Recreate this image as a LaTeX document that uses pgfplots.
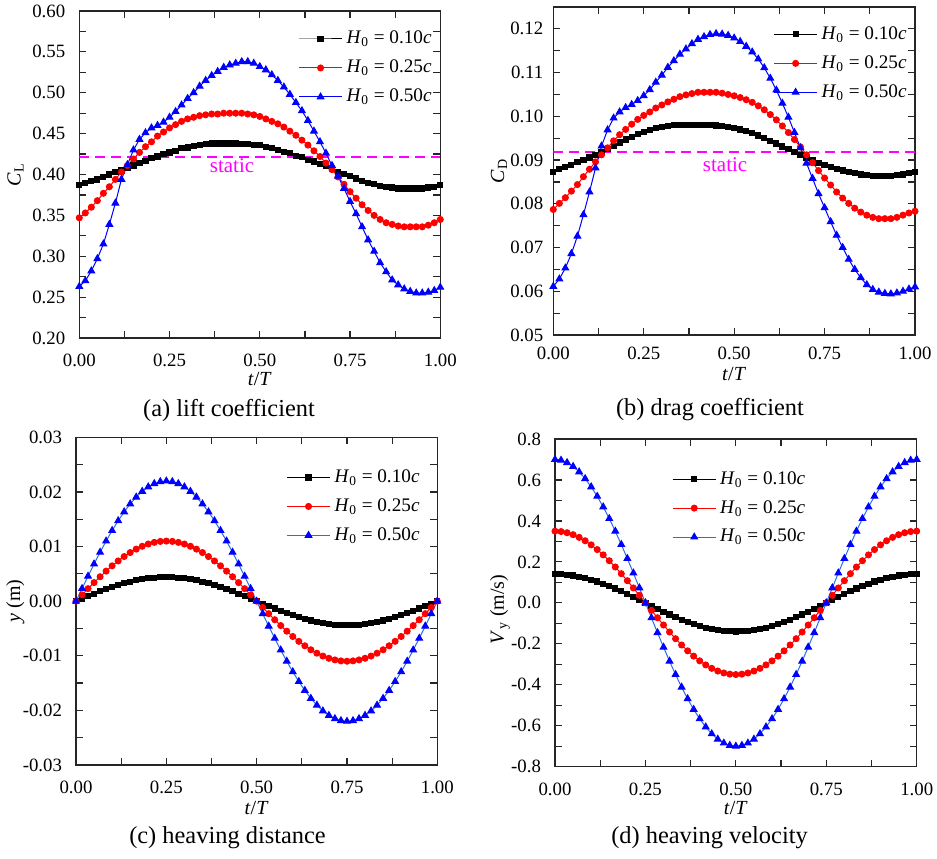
\documentclass[border=0pt]{standalone}
\usepackage{fontspec}
\setmainfont{Liberation Serif}
\usepackage{pgfplots}
\usepackage{pgfplotstable}
\pgfplotsset{compat=1.18}

\definecolor{lineblue}{RGB}{40,110,230}
\definecolor{staticpink}{RGB}{255,0,255}

% lift coefficient
\pgfplotstableread{
t b r u
0.0000 0.387 0.347 0.263
0.0167 0.390 0.353 0.270
0.0333 0.392 0.360 0.282
0.0500 0.394 0.368 0.297
0.0667 0.397 0.377 0.315
0.0833 0.400 0.385 0.339
0.1000 0.403 0.394 0.365
0.1167 0.405 0.403 0.394
0.1333 0.408 0.411 0.412
0.1500 0.411 0.419 0.430
0.1667 0.414 0.427 0.443
0.1833 0.417 0.434 0.451
0.2000 0.420 0.440 0.457
0.2167 0.422 0.447 0.460
0.2333 0.425 0.452 0.464
0.2500 0.427 0.457 0.470
0.2667 0.429 0.461 0.477
0.2833 0.432 0.465 0.485
0.3000 0.433 0.468 0.493
0.3167 0.435 0.470 0.500
0.3333 0.436 0.472 0.508
0.3500 0.437 0.473 0.515
0.3667 0.438 0.474 0.521
0.3833 0.438 0.474 0.526
0.4000 0.438 0.475 0.531
0.4167 0.438 0.475 0.534
0.4333 0.438 0.475 0.536
0.4500 0.437 0.475 0.538
0.4667 0.437 0.474 0.538
0.4833 0.436 0.473 0.536
0.5000 0.436 0.471 0.532
0.5167 0.434 0.468 0.528
0.5333 0.432 0.465 0.522
0.5500 0.430 0.462 0.515
0.5667 0.428 0.458 0.507
0.5833 0.426 0.453 0.498
0.6000 0.423 0.448 0.488
0.6167 0.421 0.442 0.478
0.6333 0.418 0.436 0.466
0.6500 0.416 0.429 0.453
0.6667 0.413 0.422 0.440
0.6833 0.410 0.414 0.426
0.7000 0.407 0.406 0.411
0.7167 0.403 0.397 0.398
0.7333 0.401 0.388 0.383
0.7500 0.398 0.379 0.367
0.7667 0.395 0.371 0.352
0.7833 0.392 0.363 0.336
0.8000 0.390 0.356 0.320
0.8167 0.388 0.350 0.306
0.8333 0.386 0.345 0.292
0.8500 0.385 0.341 0.281
0.8667 0.384 0.339 0.271
0.8833 0.383 0.337 0.265
0.9000 0.383 0.336 0.260
0.9167 0.383 0.336 0.257
0.9333 0.383 0.336 0.255
0.9500 0.383 0.336 0.255
0.9667 0.384 0.338 0.256
0.9833 0.385 0.341 0.258
1.0000 0.387 0.345 0.262
}\liftdata

% drag coefficient
\pgfplotstableread{
t b r u
0.0000 0.0873 0.0787 0.0611
0.0167 0.0879 0.0801 0.0628
0.0333 0.0884 0.0814 0.0653
0.0500 0.0889 0.0829 0.0686
0.0667 0.0895 0.0844 0.0726
0.0833 0.0900 0.0862 0.0775
0.1000 0.0906 0.0879 0.0827
0.1167 0.0912 0.0896 0.0882
0.1333 0.0919 0.0912 0.0932
0.1500 0.0926 0.0928 0.0969
0.1667 0.0933 0.0944 0.0996
0.1833 0.0940 0.0958 0.1010
0.2000 0.0947 0.0970 0.1020
0.2167 0.0953 0.0982 0.1027
0.2333 0.0959 0.0993 0.1036
0.2500 0.0964 0.1002 0.1047
0.2667 0.0969 0.1010 0.1061
0.2833 0.0973 0.1019 0.1078
0.3000 0.0976 0.1026 0.1094
0.3167 0.0978 0.1033 0.1112
0.3333 0.0980 0.1039 0.1127
0.3500 0.0980 0.1045 0.1142
0.3667 0.0981 0.1049 0.1154
0.3833 0.0981 0.1052 0.1166
0.4000 0.0981 0.1055 0.1176
0.4167 0.0980 0.1055 0.1182
0.4333 0.0980 0.1055 0.1187
0.4500 0.0979 0.1055 0.1189
0.4667 0.0977 0.1053 0.1188
0.4833 0.0975 0.1050 0.1185
0.5000 0.0973 0.1047 0.1179
0.5167 0.0970 0.1043 0.1171
0.5333 0.0966 0.1038 0.1160
0.5500 0.0961 0.1032 0.1147
0.5667 0.0956 0.1024 0.1131
0.5833 0.0951 0.1015 0.1111
0.6000 0.0944 0.1004 0.1087
0.6167 0.0938 0.0992 0.1060
0.6333 0.0931 0.0978 0.1030
0.6500 0.0925 0.0963 0.0998
0.6667 0.0918 0.0947 0.0963
0.6833 0.0912 0.0930 0.0928
0.7000 0.0905 0.0912 0.0893
0.7167 0.0899 0.0894 0.0858
0.7333 0.0894 0.0876 0.0823
0.7500 0.0889 0.0859 0.0791
0.7667 0.0884 0.0843 0.0759
0.7833 0.0880 0.0827 0.0728
0.8000 0.0876 0.0813 0.0700
0.8167 0.0873 0.0801 0.0673
0.8333 0.0870 0.0790 0.0650
0.8500 0.0867 0.0781 0.0631
0.8667 0.0865 0.0774 0.0615
0.8833 0.0864 0.0769 0.0604
0.9000 0.0863 0.0766 0.0598
0.9167 0.0863 0.0766 0.0595
0.9333 0.0864 0.0766 0.0594
0.9500 0.0865 0.0769 0.0596
0.9667 0.0867 0.0774 0.0600
0.9833 0.0870 0.0779 0.0605
1.0000 0.0872 0.0783 0.0610
}\dragdata

% heaving distance
\pgfplotstableread{
t b r u
0.0000 0 0 0
0.0167 0.00046 0.00115 0.00230
0.0333 0.00091 0.00229 0.00457
0.0500 0.00136 0.00340 0.00680
0.0667 0.00179 0.00447 0.00895
0.0833 0.00220 0.00550 0.01100
0.1000 0.00259 0.00647 0.01293
0.1167 0.00294 0.00736 0.01472
0.1333 0.00327 0.00817 0.01635
0.1500 0.00356 0.00890 0.01780
0.1667 0.00381 0.00953 0.01905
0.1833 0.00402 0.01005 0.02010
0.2000 0.00418 0.01046 0.02092
0.2167 0.00430 0.01076 0.02152
0.2333 0.00438 0.01094 0.02188
0.2500 0.00440 0.01100 0.02200
0.2667 0.00438 0.01094 0.02188
0.2833 0.00430 0.01076 0.02152
0.3000 0.00418 0.01046 0.02092
0.3167 0.00402 0.01005 0.02010
0.3333 0.00381 0.00953 0.01905
0.3500 0.00356 0.00890 0.01780
0.3667 0.00327 0.00817 0.01635
0.3833 0.00294 0.00736 0.01472
0.4000 0.00259 0.00647 0.01293
0.4167 0.00220 0.00550 0.01100
0.4333 0.00179 0.00447 0.00895
0.4500 0.00136 0.00340 0.00680
0.4667 0.00091 0.00229 0.00457
0.4833 0.00046 0.00115 0.00230
0.5000 0 0 0
0.5167 -0.00046 -0.00115 -0.00230
0.5333 -0.00091 -0.00229 -0.00457
0.5500 -0.00136 -0.00340 -0.00680
0.5667 -0.00179 -0.00447 -0.00895
0.5833 -0.00220 -0.00550 -0.01100
0.6000 -0.00259 -0.00647 -0.01293
0.6167 -0.00294 -0.00736 -0.01472
0.6333 -0.00327 -0.00817 -0.01635
0.6500 -0.00356 -0.00890 -0.01780
0.6667 -0.00381 -0.00953 -0.01905
0.6833 -0.00402 -0.01005 -0.02010
0.7000 -0.00418 -0.01046 -0.02092
0.7167 -0.00430 -0.01076 -0.02152
0.7333 -0.00438 -0.01094 -0.02188
0.7500 -0.00440 -0.01100 -0.02200
0.7667 -0.00438 -0.01094 -0.02188
0.7833 -0.00430 -0.01076 -0.02152
0.8000 -0.00418 -0.01046 -0.02092
0.8167 -0.00402 -0.01005 -0.02010
0.8333 -0.00381 -0.00953 -0.01905
0.8500 -0.00356 -0.00890 -0.01780
0.8667 -0.00327 -0.00817 -0.01635
0.8833 -0.00294 -0.00736 -0.01472
0.9000 -0.00259 -0.00647 -0.01293
0.9167 -0.00220 -0.00550 -0.01100
0.9333 -0.00179 -0.00447 -0.00895
0.9500 -0.00136 -0.00340 -0.00680
0.9667 -0.00091 -0.00229 -0.00457
0.9833 -0.00046 -0.00115 -0.00230
1.0000 0 0 0
}\heavedata

% heaving velocity
\pgfplotstableread{
t b r u
0.0000 0.14 0.35 0.70
0.0167 0.13923 0.34808 0.69616
0.0333 0.13694 0.34235 0.68471
0.0500 0.13315 0.33287 0.66574
0.0667 0.12790 0.31974 0.63949
0.0833 0.12124 0.30311 0.60622
0.1000 0.11326 0.28316 0.56631
0.1167 0.10404 0.26010 0.52020
0.1333 0.09368 0.23420 0.46839
0.1500 0.08229 0.20573 0.41145
0.1667 0.07000 0.17500 0.35000
0.1833 0.05694 0.14236 0.28472
0.2000 0.04326 0.10816 0.21631
0.2167 0.02911 0.07277 0.14554
0.2333 0.01463 0.03659 0.07317
0.2500 0 0 0
0.2667 -0.01463 -0.03659 -0.07317
0.2833 -0.02911 -0.07277 -0.14554
0.3000 -0.04326 -0.10816 -0.21631
0.3167 -0.05694 -0.14236 -0.28472
0.3333 -0.07000 -0.17500 -0.35000
0.3500 -0.08229 -0.20573 -0.41145
0.3667 -0.09368 -0.23420 -0.46839
0.3833 -0.10404 -0.26010 -0.52020
0.4000 -0.11326 -0.28316 -0.56631
0.4167 -0.12124 -0.30311 -0.60622
0.4333 -0.12790 -0.31974 -0.63949
0.4500 -0.13315 -0.33287 -0.66574
0.4667 -0.13694 -0.34235 -0.68471
0.4833 -0.13923 -0.34808 -0.69616
0.5000 -0.14 -0.35 -0.70
0.5167 -0.13923 -0.34808 -0.69616
0.5333 -0.13694 -0.34235 -0.68471
0.5500 -0.13315 -0.33287 -0.66574
0.5667 -0.12790 -0.31974 -0.63949
0.5833 -0.12124 -0.30311 -0.60622
0.6000 -0.11326 -0.28316 -0.56631
0.6167 -0.10404 -0.26010 -0.52020
0.6333 -0.09368 -0.23420 -0.46839
0.6500 -0.08229 -0.20573 -0.41145
0.6667 -0.07000 -0.17500 -0.35000
0.6833 -0.05694 -0.14236 -0.28472
0.7000 -0.04326 -0.10816 -0.21631
0.7167 -0.02911 -0.07277 -0.14554
0.7333 -0.01463 -0.03659 -0.07317
0.7500 0 0 0
0.7667 0.01463 0.03659 0.07317
0.7833 0.02911 0.07277 0.14554
0.8000 0.04326 0.10816 0.21631
0.8167 0.05694 0.14236 0.28472
0.8333 0.07000 0.17500 0.35000
0.8500 0.08229 0.20573 0.41145
0.8667 0.09368 0.23420 0.46839
0.8833 0.10404 0.26010 0.52020
0.9000 0.11326 0.28316 0.56631
0.9167 0.12124 0.30311 0.60622
0.9333 0.12790 0.31974 0.63949
0.9500 0.13315 0.33287 0.66574
0.9667 0.13694 0.34235 0.68471
0.9833 0.13923 0.34808 0.69616
1.0000 0.14 0.35 0.70
}\veldata

\pgfplotsset{
  panel/.style={
    scale only axis, anchor=north west,
    width=180.5pt, height=163.5pt,
    xmin=0, xmax=1, xtick={0,0.25,0.5,0.75,1},
    minor x tick num=1, minor y tick num=1,
    tick align=inside,
    major tick length=3.5pt, minor tick length=3.5pt,
    axis line style={line width=0.7pt, black!85},
    every tick/.append style={line width=0.6pt, black!85},
    scaled ticks=false,
    /pgf/number format/assume math mode=true,
    /pgf/number format/fixed,
    /pgf/number format/fixed zerofill,
    /pgf/number format/precision=2,
    tick label style={font=\fontsize{9.4}{11}\selectfont},
    xticklabel style={inner sep=0pt, yshift=-8pt},
    yticklabel style={xshift=-3.5pt},
    label style={font=\fontsize{10.5}{12}\selectfont},
    every axis x label/.style={at={(rel axis cs:0.5,0)}, anchor=center, inner sep=0pt, yshift=-20.5pt},
    every axis y label/.style={rotate=90, anchor=center, inner sep=0pt},
    xlabel={\textit{t}/\textit{T}},
    legend cell align=left,
    legend style={draw=none, fill=none, inner sep=0pt, row sep=2.6pt,
      font=\fontsize{9.6}{11}\selectfont},
    legend image code/.code={\draw[mark repeat=2, mark phase=2] plot coordinates {(0pt,0pt) (10.75pt,0pt) (21.5pt,0pt)};},
  },
  s10/.style={black, line width=0.5pt, mark=square*, mark size=1.3pt, mark options={solid}},
  s25/.style={red, line width=0.5pt, mark=*, mark size=1.5pt, mark options={solid}},
  s50/.style={blue, line width=0.5pt, mark=triangle*, mark size=1.9pt, mark options={solid}},
  staticline/.style={staticpink, line width=0.8pt, dash pattern=on 5pt off 3pt, forget plot},
}

\newcommand{\Hentry}[1]{\textit{H}\textsubscript{0} = #1\textit{c}}

\begin{document}
\begin{tikzpicture}
\useasboundingbox (0,0) rectangle (468.5pt,-429pt);

% (a)
\begin{axis}[panel, at={(39.65pt,-5.5pt)},
  ymin=0.2, ymax=0.6, ytick={0.2,0.25,0.3,0.35,0.4,0.45,0.5,0.55,0.6},
  ylabel={\textit{C}\textsubscript{L}},
  ylabel style={at={(rel axis cs:-0.177,0.5)}},
  legend style={at={(0.988,0.952)}, anchor=north east}]
\addplot[staticline] coordinates {(0,0.4217) (1,0.4217)};
\addplot[s10] table[x=t, y=b] {\liftdata};
\addlegendentry{\Hentry{0.10}}
\addplot[s25] table[x=t, y=r] {\liftdata};
\addlegendentry{\Hentry{0.25}}
\addplot[s50] table[x=t, y=u] {\liftdata};
\addlegendentry{\Hentry{0.50}}
\node[staticpink, font=\fontsize{10.5}{12}\selectfont] at (axis cs:0.423,0.411) {static};
\end{axis}

% (b)
\begin{axis}[panel, at={(276.65pt,-3.5pt)}, height=164pt, width=180.85pt,
  ymin=0.05, ymax=0.125, ytick={0.05,0.06,0.07,0.08,0.09,0.1,0.11,0.12},
  yticklabel style={xshift=2pt},
  xticklabel style={yshift=2pt},
  ylabel={\textit{C}\textsubscript{D}},
  ylabel style={at={(rel axis cs:-0.15,0.5)}},
  xlabel style={yshift=1pt},
  legend style={at={(0.989,0.954)}, anchor=north east}]
\addplot[staticline] coordinates {(0,0.0919) (1,0.0919)};
\addplot[s10] table[x=t, y=b] {\dragdata};
\addlegendentry{\Hentry{0.10}}
\addplot[s25] table[x=t, y=r] {\dragdata};
\addlegendentry{\Hentry{0.25}}
\addplot[s50] table[x=t, y=u] {\dragdata};
\addlegendentry{\Hentry{0.50}}
\node[staticpink, font=\fontsize{10.5}{12}\selectfont] at (axis cs:0.475,0.0890) {static};
\end{axis}

% (c)
\begin{axis}[panel, at={(38pt,-218.65pt)}, width=180.65pt, height=163.85pt,
  ymin=-0.03, ymax=0.03, ytick={-0.03,-0.02,-0.01,0,0.01,0.02,0.03},
  ylabel={\textit{y} (m)},
  ylabel style={at={(rel axis cs:-0.168,0.5)}},
  xlabel style={yshift=-1pt},
  legend style={at={(0.963,0.915)}, anchor=north east}]
\addplot[s10] table[x=t, y=b] {\heavedata};
\addlegendentry{\Hentry{0.10}}
\addplot[s25] table[x=t, y=r] {\heavedata};
\addlegendentry{\Hentry{0.25}}
\addplot[s50, color=lineblue, mark options={fill=blue, draw=blue}] table[x=t, y=u] {\heavedata};
\addlegendentry{\Hentry{0.50}}
\end{axis}

% (d)
\begin{axis}[panel, at={(277.5pt,-219.5pt)}, width=180.85pt, height=163.85pt,
  ymin=-0.8, ymax=0.8, ytick={-0.8,-0.6,-0.4,-0.2,0,0.2,0.4,0.6,0.8},
  yticklabel style={/pgf/number format/precision=1},
  ylabel={\textit{V}\textsubscript{y} (m/s)},
  ylabel style={at={(rel axis cs:-0.152,0.48)}},
  legend style={at={(0.323,0.915)}, anchor=north west}]
\addplot[s10] table[x=t, y=b] {\veldata};
\addlegendentry{\Hentry{0.10}}
\addplot[s25] table[x=t, y=r] {\veldata};
\addlegendentry{\Hentry{0.25}}
\addplot[s50, color=lineblue, mark options={fill=blue, draw=blue}] table[x=t, y=u] {\veldata};
\addlegendentry{\Hentry{0.50}}
\end{axis}

\begin{scope}[every node/.style={font=\fontsize{12.2}{14}\selectfont}]
\node at (114.5pt,-205pt) {(a) lift coefficient};
\node at (355pt,-205pt) {(b) drag coefficient};
\node at (113.75pt,-419pt) {(c) heaving distance};
\node at (354.75pt,-419pt) {(d) heaving velocity};
\end{scope}
\end{tikzpicture}
\end{document}
